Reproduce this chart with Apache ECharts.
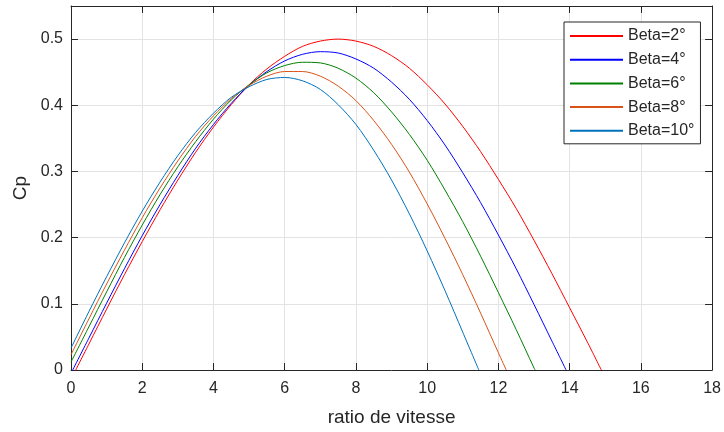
<!DOCTYPE html>
<html>
<head>
<meta charset="utf-8">
<script src="https://cdn.jsdelivr.net/npm/echarts@6/dist/echarts.min.js"></script>
<style>
html,body{margin:0;padding:0;background:#fff;}
#chart{width:724px;height:432px;}
</style>
</head>
<body>
<div id="chart"></div>
<script>
// tip speed ratio sample points
var lambdaValues = [0,0.5,1,1.5,2,2.5,3,3.5,4,4.5,5,5.5,6,6.5,7,7.5,8,8.5,9,9.5,10,10.5,11,11.5,12,12.5,13,13.5,14,14.5];
var seriesNames = ['Beta=2°','Beta=4°','Beta=6°','Beta=8°','Beta=10°'];
var seriesColors = ['#ff0000','#0000ff','#008000','#d95319','#0072bd'];
// Cp values
var cpBeta2 = [-0.014,0.039,0.092,0.144,0.194,0.242,0.287,0.329,0.367,0.401,0.431,0.455,0.474,0.489,0.497,0.5,0.497,0.489,0.475,0.456,0.431,0.402,0.368,0.33,0.288,0.244,0.196,0.146,0.094,0.042];
var cpBeta4 = [-0.005,0.048,0.101,0.153,0.203,0.25,0.294,0.335,0.371,0.403,0.43,0.451,0.467,0.477,0.481,0.479,0.47,0.456,0.435,0.409,0.377,0.34,0.298,0.253,0.204,0.153,0.099,0.044];
var cpBeta6 = [0.012,0.065,0.118,0.17,0.219,0.265,0.307,0.345,0.379,0.408,0.431,0.449,0.46,0.465,0.464,0.456,0.441,0.419,0.39,0.356,0.317,0.272,0.224,0.172,0.117,0.061,0.003];
var cpBeta8 = [0.023,0.077,0.13,0.181,0.23,0.275,0.316,0.353,0.384,0.41,0.43,0.444,0.451,0.451,0.444,0.429,0.407,0.377,0.341,0.299,0.251,0.199,0.144,0.086,0.026];
var cpBeta10 = [0.033,0.088,0.141,0.192,0.24,0.284,0.324,0.359,0.388,0.412,0.428,0.439,0.442,0.437,0.424,0.401,0.371,0.332,0.287,0.236,0.18,0.12,0.057];
// where each curve meets Cp = 0 on the right
var zeroCrossings = [14.89,13.9,13.03,12.22,11.45];
var xTicks = [0,2,4,6,8,10,12,14,16,18];
var yTicks = [0,0.1,0.2,0.3,0.4,0.5];

var allCp = [cpBeta2,cpBeta4,cpBeta6,cpBeta8,cpBeta10];
function buildData(vals, root){
  var d = vals.map(function(v,i){ return [lambdaValues[i], v]; });
  d.push([root, 0]);
  return d;
}
var axisColor = '#262626';
var font = 'Liberation Sans, Arial, sans-serif';
var chart = echarts.init(document.getElementById('chart'), null, {renderer:'canvas'});
var series = seriesNames.map(function(n,i){
  return {
    name:n, type:'line', data:buildData(allCp[i], zeroCrossings[i]),
    symbol:'none', smooth:0.3, clip:true,
    lineStyle:{color:seriesColors[i], width:1},
    itemStyle:{color:seriesColors[i]}
  };
});
chart.setOption({
  animation:false,
  backgroundColor:'#fff',
  grid:{left:71, top:6, right:9, bottom:59, containLabel:false},
  legend:{
    orient:'vertical', left:564, top:22, data:seriesNames,
    icon:'rect', itemWidth:53, itemHeight:2, itemGap:7.7,
    padding:[6,6,5,6],
    borderColor:axisColor, borderWidth:1, backgroundColor:'#fff',
    textStyle:{fontFamily:font, fontSize:16, color:axisColor, padding:[0,0,0,0]}
  },
  xAxis:[{
    type:'value', min:0, max:18, interval:2, position:'bottom',
    name:'ratio de vitesse', nameLocation:'middle', nameGap:38,
    nameTextStyle:{fontFamily:font, fontSize:19, color:axisColor},
    axisLine:{show:true, onZero:false, lineStyle:{color:axisColor, width:1}},
    axisTick:{show:true, inside:true, length:7, lineStyle:{color:axisColor}},
    axisLabel:{fontFamily:font, fontSize:16, color:axisColor, margin:11,
      formatter:function(v){ return xTicks.indexOf(v)>=0 ? String(v) : ''; }},
    splitLine:{show:true, lineStyle:{color:'#e3e3e3', width:1}}
  },{
    type:'value', min:0, max:18, interval:2, position:'top',
    axisLine:{show:true, onZero:false, lineStyle:{color:axisColor, width:1}},
    axisTick:{show:true, inside:true, length:7, lineStyle:{color:axisColor}},
    axisLabel:{show:false}, splitLine:{show:false}
  }],
  yAxis:[{
    type:'value', min:0, max:0.55, interval:0.1, position:'left',
    name:'Cp', nameLocation:'middle', nameGap:34, nameRotate:90,
    nameTextStyle:{fontFamily:font, fontSize:19, color:axisColor},
    axisLine:{show:true, onZero:false, lineStyle:{color:axisColor, width:1}},
    axisTick:{show:true, inside:true, length:7, lineStyle:{color:axisColor}},
    axisLabel:{fontFamily:font, fontSize:16, color:axisColor, margin:8, showMaxLabel:false,
      formatter:function(v){ var r=Math.round(v*10)/10; return yTicks.indexOf(r)>=0 && Math.abs(r-v)<1e-9 ? String(r) : ''; }},
    splitLine:{show:true, lineStyle:{color:'#e3e3e3', width:1}}
  },{
    type:'value', min:0, max:0.55, interval:0.1, position:'right',
    axisLine:{show:true, onZero:false, lineStyle:{color:axisColor, width:1}},
    axisTick:{show:true, inside:true, length:7, lineStyle:{color:axisColor}},
    axisLabel:{show:false}, splitLine:{show:false}
  }],
  series:series
});
</script>
</body>
</html>
